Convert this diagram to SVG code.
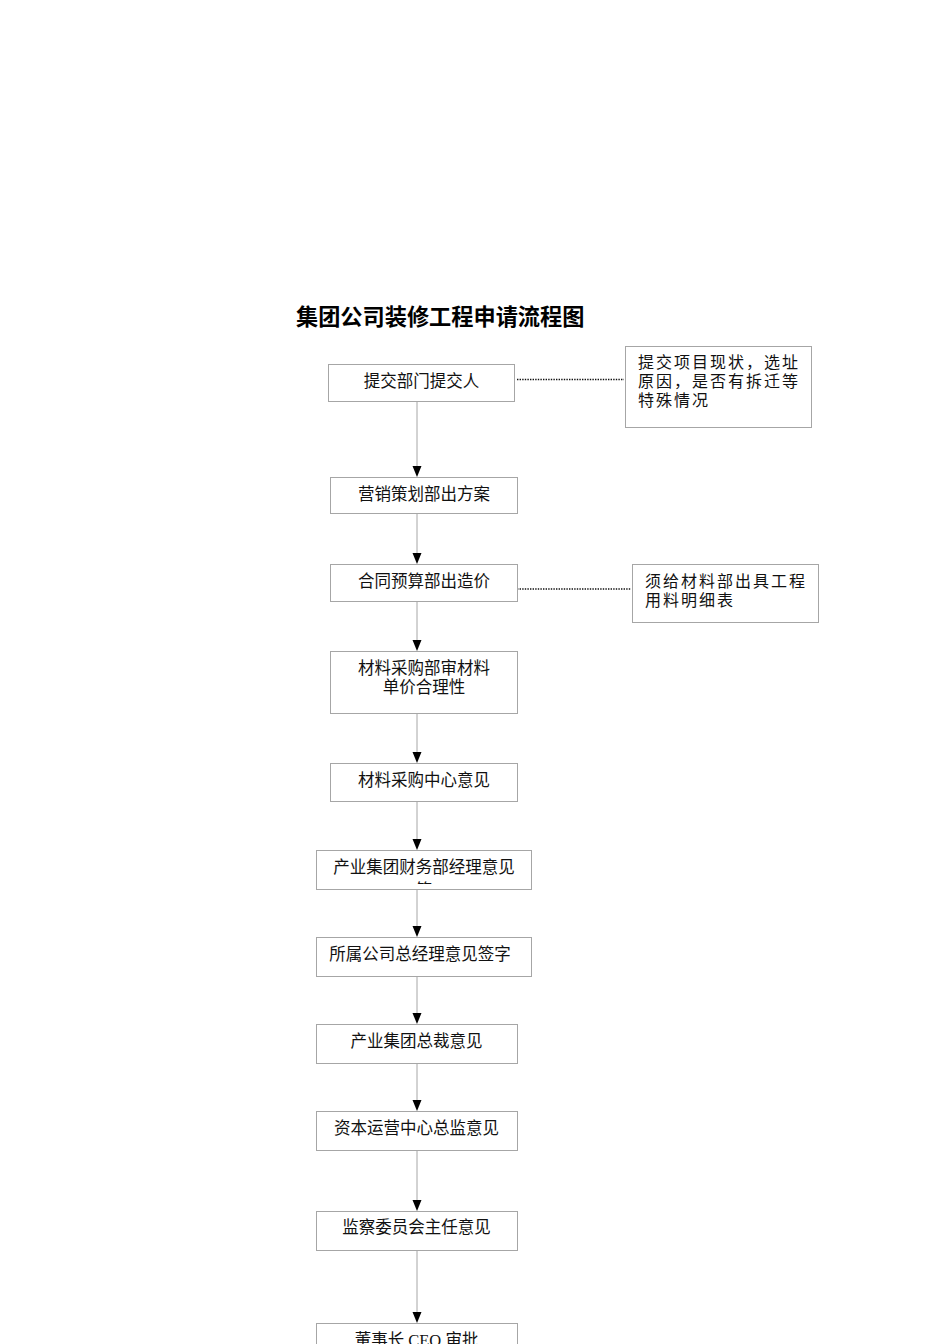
<svg xmlns="http://www.w3.org/2000/svg" width="950" height="1344" viewBox="0 0 950 1344">
<style>
.box{fill:#fff;stroke:#a6a6a6;stroke-width:1}
.t{font-family:"Liberation Serif","Noto Sans CJK SC",serif;font-size:16.5px;fill:#111;text-anchor:middle}
.n{font-family:"Liberation Serif","Noto Sans CJK SC",serif;font-size:16px;fill:#111;letter-spacing:2px}
.c{stroke:#a6a6a6;stroke-width:1;fill:none}
.d{stroke:#111;stroke-width:1.6;stroke-dasharray:1.4 1.2;fill:none}
.title{font-family:"Noto Sans CJK SC","Liberation Sans",sans-serif;font-size:22.2px;font-weight:bold;fill:#000}
</style>
<defs>
<polygon id="ah" points="-4.5,-11 4.5,-11 0,0" fill="#000"/>
<clipPath id="clip6"><rect x="316" y="850" width="215" height="34"/></clipPath>
</defs>
<rect width="950" height="1344" fill="#fff"/>
<text class="title" x="296" y="325">集团公司装修工程申请流程图</text>
<g id="connectors">
<line class="c" x1="417" y1="401.5" x2="417" y2="467"/>
<use href="#ah" x="417" y="477"/>
<line class="c" x1="417" y1="513.5" x2="417" y2="554"/>
<use href="#ah" x="417" y="564"/>
<line class="c" x1="417" y1="601.5" x2="417" y2="641"/>
<use href="#ah" x="417" y="651"/>
<line class="c" x1="417" y1="713.5" x2="417" y2="753"/>
<use href="#ah" x="417" y="763"/>
<line class="c" x1="417" y1="801.5" x2="417" y2="840"/>
<use href="#ah" x="417" y="850"/>
<line class="c" x1="417" y1="889.5" x2="417" y2="927"/>
<use href="#ah" x="417" y="937"/>
<line class="c" x1="417" y1="976.5" x2="417" y2="1014"/>
<use href="#ah" x="417" y="1024"/>
<line class="c" x1="417" y1="1063.5" x2="417" y2="1101"/>
<use href="#ah" x="417" y="1111"/>
<line class="c" x1="417" y1="1150.5" x2="417" y2="1201"/>
<use href="#ah" x="417" y="1211"/>
<line class="c" x1="417" y1="1250.5" x2="417" y2="1313"/>
<use href="#ah" x="417" y="1323"/>
<line class="d" x1="517" y1="379.5" x2="624" y2="379.5"/>
<line class="d" x1="517" y1="589" x2="631" y2="589"/>
</g>
<g id="n1"><rect class="box" x="328.5" y="364.5" width="186" height="37"/><text class="t" x="421.5" y="387">提交部门提交人</text></g>
<g id="note1"><rect class="box" x="625.5" y="346.5" width="186" height="81"/>
<text class="n" x="638" y="368">提交项目现状，选址</text>
<text class="n" x="638" y="387">原因，是否有拆迁等</text>
<text class="n" x="638" y="406">特殊情况</text></g>
<g id="n2"><rect class="box" x="330.5" y="477.5" width="187" height="36"/><text class="t" x="424" y="500">营销策划部出方案</text></g>
<g id="n3"><rect class="box" x="330.5" y="564.5" width="187" height="37"/><text class="t" x="424" y="587">合同预算部出造价</text></g>
<g id="note2"><rect class="box" x="632.5" y="564.5" width="186" height="58"/>
<text class="n" x="645" y="587">须给材料部出具工程</text>
<text class="n" x="645" y="606">用料明细表</text></g>
<g id="n4"><rect class="box" x="330.5" y="651.5" width="187" height="62"/><text class="t" x="424" y="674">材料采购部审材料</text><text class="t" x="424" y="693">单价合理性</text></g>
<g id="n5"><rect class="box" x="330.5" y="763.5" width="187" height="38"/><text class="t" x="424" y="786">材料采购中心意见</text></g>
<g id="n6"><rect class="box" x="316.5" y="850.5" width="215" height="39"/><text class="t" x="424" y="873">产业集团财务部经理意见</text><text class="t" x="424" y="896" clip-path="url(#clip6)">签</text></g>
<g id="n7"><rect class="box" x="316.5" y="937.5" width="215" height="39"/><text class="t" x="420" y="960">所属公司总经理意见签字</text></g>
<g id="n8"><rect class="box" x="316.5" y="1024.5" width="201" height="39"/><text class="t" x="416.5" y="1047">产业集团总裁意见</text></g>
<g id="n9"><rect class="box" x="316.5" y="1111.5" width="201" height="39"/><text class="t" x="416.5" y="1134">资本运营中心总监意见</text></g>
<g id="n10"><rect class="box" x="316.5" y="1211.5" width="201" height="39"/><text class="t" x="416.5" y="1233">监察委员会主任意见</text></g>
<g id="n11"><rect class="box" x="316.5" y="1323.5" width="201" height="39"/><text class="t" x="416.5" y="1346">董事长 CEO 审批</text></g>
</svg>
